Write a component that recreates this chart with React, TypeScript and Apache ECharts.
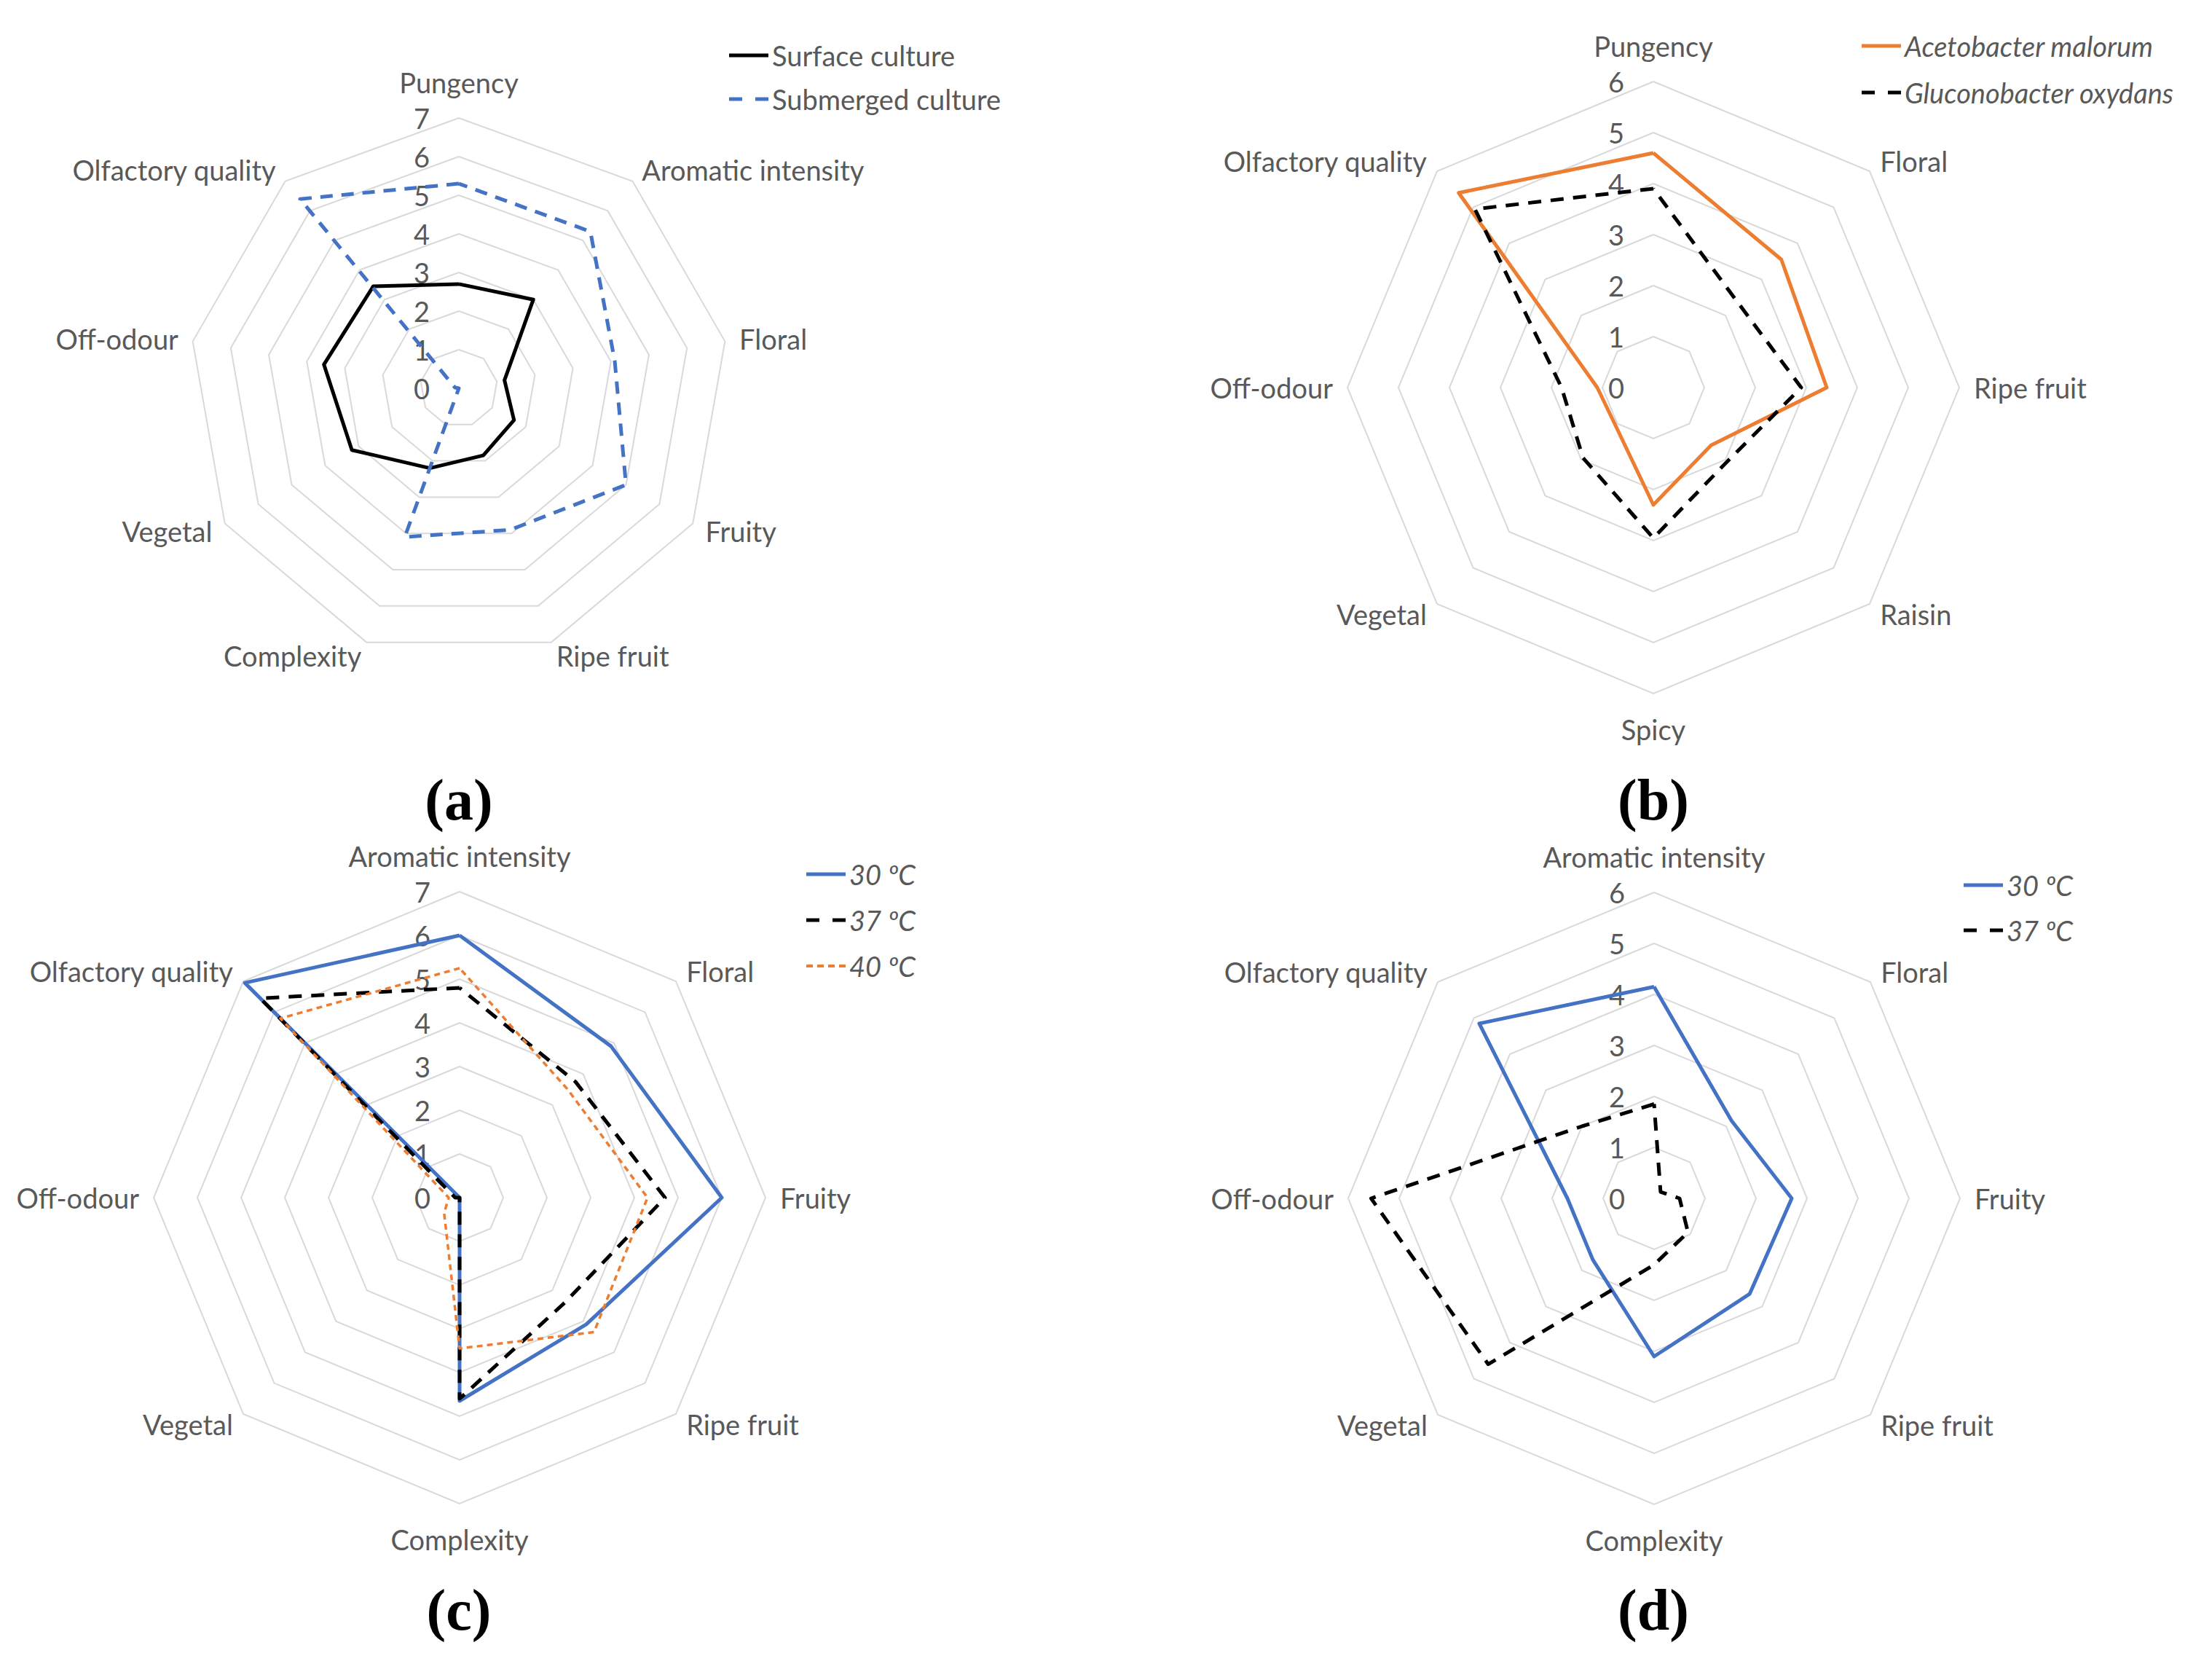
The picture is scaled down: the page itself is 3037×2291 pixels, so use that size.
import React, { useEffect, useRef } from "react";
import * as echarts from "echarts";

// ---------- data ----------
const axesA = ["Pungency", "Aromatic intensity", "Floral", "Fruity", "Ripe fruit", "Complexity", "Vegetal", "Off-odour", "Olfactory quality"];
const surfaceCulture = [2.7, 3.0, 1.2, 1.65, 1.85, 2.2, 3.2, 3.55, 3.45];
const submergedCulture = [5.3, 5.3, 4.1, 5.0, 3.9, 4.1, 0, 0.1, 6.4];

const axesB = ["Pungency", "Floral", "Ripe fruit", "Raisin", "Spicy", "Vegetal", "Off-odour", "Olfactory quality"];
const acetobacterMalorum = [4.6, 3.55, 3.4, 1.6, 2.3, 1.05, 1.1, 5.4];
const gluconobacterOxydans = [3.9, 2.35, 2.9, 2.05, 2.95, 1.95, 1.8, 4.95];

const axesCD = ["Aromatic intensity", "Floral", "Fruity", "Ripe fruit", "Complexity", "Vegetal", "Off-odour", "Olfactory quality"];
const c30 = [6.0, 4.9, 6.0, 4.1, 4.65, 0, 0, 6.95];
const c37 = [4.8, 3.75, 4.7, 3.4, 4.6, 0, 0.1, 6.45];
const c40 = [5.25, 3.5, 4.3, 4.35, 3.45, 0.5, 0.25, 5.8];
const d30 = [4.15, 2.15, 2.7, 2.65, 3.1, 1.7, 1.7, 4.85];
const d37 = [1.85, 0.18, 0.5, 0.94, 1.3, 4.6, 5.55, 2.0];

const maxA = 7;
const maxB = 6;
const maxC = 7;
const maxD = 6;

const panelLabels = ["(a)", "(b)", "(c)", "(d)"];
const legendA = ["Surface culture", "Submerged culture"];
const legendB = ["Acetobacter malorum", "Gluconobacter oxydans"];
const legendC = ["30 ºC", "37 ºC", "40 ºC"];
const legendD = ["30 ºC", "37 ºC"];

// ---------- styling ----------
const W = 3037;
const H = 2291;
const GRAY = "#595959";
const BLUE = "#4472c4";
const ORANGE = "#ed7d31";
const BLACK = "#000000";
const FONT = "Lato";
const FS = 38;

// ECharts lays indicators counter-clockwise; Excel draws them clockwise.
const cw = <T,>(arr: T[]): T[] => [arr[0], ...arr.slice(1).reverse()];

const ICON_SOLID = "path://M0,0h54v5h-54z";
const ICON_DASH = "path://M0,0h18v5h-18z M36,0h18v5h-18z";
const ICON_SHORTDASH = "path://M0,0h9v4h-9z M15,0h9v4h-9z M30,0h9v4h-9z M45,0h9v4h-9z";

function makeRadar(center: number[], radius: number, names: string[], max: number) {
  const n = names.length;
  const items = cw(names.map((name, idx) => ({ name, idx })));
  return {
    center,
    radius,
    startAngle: 90,
    shape: "polygon",
    splitNumber: max,
    indicator: items.map((it) => {
      const ind: any = { name: it.name, max, min: 0 };
      if (it.idx === 0) {
        ind.axisLabel = { show: true };
        ind.nameGap = 30;
      }
      if (n % 2 === 0 && it.idx === n / 2) ind.nameGap = 30;
      return ind;
    }),
    axisName: { color: GRAY, fontSize: FS, fontFamily: FONT },
    nameGap: 20,
    axisLine: { show: false },
    axisTick: { show: false },
    axisLabel: { show: false, color: GRAY, fontSize: FS, fontFamily: FONT, margin: 40 },
    splitLine: { lineStyle: { color: "#d9d9d9", width: 2 } },
    splitArea: { show: false },
  };
}

function makeSeries(name: string, radarIndex: number, values: number[], color: string, width: number, type: any) {
  return {
    type: "radar",
    name,
    radarIndex,
    symbol: "none",
    silent: true,
    data: [{ name, value: cw(values) }],
    itemStyle: { color },
    lineStyle: { color, width, type, join: "round", cap: "butt" },
  };
}

function makeLegend(left: number, top: number, gap: number, italic: boolean, items: { name: string; icon: string; color: string }[]) {
  return {
    orient: "vertical",
    left,
    top,
    padding: 0,
    itemWidth: 54,
    itemHeight: 5,
    itemGap: gap,
    selectedMode: false,
    textStyle: { color: GRAY, fontSize: FS, fontFamily: FONT, fontStyle: italic ? "italic" : "normal" },
    data: items.map((it) => ({ name: it.name, icon: it.icon, itemStyle: { color: it.color, borderWidth: 0 } })),
  };
}

export default function App() {
  const ref = useRef<HTMLDivElement>(null);

  useEffect(() => {
    if (!ref.current) return;
    const chart = echarts.init(ref.current, null, { renderer: "svg" });

    const option: any = {
      animation: false,
      backgroundColor: "#ffffff",
      radar: [
        makeRadar([630, 533], 371, axesA, maxA),
        makeRadar([2270, 532], 420, axesB, maxB),
        makeRadar([631, 1644], 420, axesCD, maxC),
        makeRadar([2271, 1645], 420, axesCD, maxD),
      ],
      legend: [
        makeLegend(1001, 57, 22, false, [
          { name: legendA[0], icon: ICON_SOLID, color: BLACK },
          { name: legendA[1], icon: ICON_DASH, color: BLUE },
        ]),
        makeLegend(2556, 44, 26, true, [
          { name: legendB[0], icon: ICON_SOLID, color: ORANGE },
          { name: legendB[1], icon: ICON_DASH, color: BLACK },
        ]),
        makeLegend(1107, 1181, 25, true, [
          { name: legendC[0], icon: ICON_SOLID, color: BLUE },
          { name: legendC[1], icon: ICON_DASH, color: BLACK },
          { name: legendC[2], icon: ICON_SHORTDASH, color: ORANGE },
        ]),
        makeLegend(2696, 1196, 24, true, [
          { name: legendD[0], icon: ICON_SOLID, color: BLUE },
          { name: legendD[1], icon: ICON_DASH, color: BLACK },
        ]),
      ],
      series: [
        makeSeries(legendA[0], 0, surfaceCulture, BLACK, 5, "solid"),
        makeSeries(legendA[1], 0, submergedCulture, BLUE, 5, [17, 12]),
        makeSeries(legendB[0], 1, acetobacterMalorum, ORANGE, 5, "solid"),
        makeSeries(legendB[1], 1, gluconobacterOxydans, BLACK, 5, [18, 13]),
        makeSeries(legendC[0], 2, c30, BLUE, 5, "solid"),
        makeSeries(legendC[1], 2, c37, BLACK, 5, [18, 13]),
        makeSeries(legendC[2], 2, c40, ORANGE, 3.5, [8, 6]),
        makeSeries(legendD[0], 3, d30, BLUE, 5, "solid"),
        makeSeries(legendD[1], 3, d37, BLACK, 5, [18, 13]),
      ],
      graphic: [
        [630, 1098],
        [2270, 1098],
        [630, 2210],
        [2270, 2210],
      ].map((p, i) => ({
        type: "text",
        x: p[0],
        y: p[1],
        silent: true,
        style: {
          text: panelLabels[i],
          fill: "#000000",
          fontSize: 80,
          fontWeight: "bold",
          fontFamily: "Liberation Serif",
          align: "center",
          verticalAlign: "middle",
          textAlign: "center",
          textVerticalAlign: "middle",
        },
      })),
    };

    chart.setOption(option);
    return () => chart.dispose();
  }, []);

  return (
    <div
      ref={ref}
      style={{ position: "absolute", left: 0, top: 0, width: W, height: H, background: "#ffffff" }}
    />
  );
}
